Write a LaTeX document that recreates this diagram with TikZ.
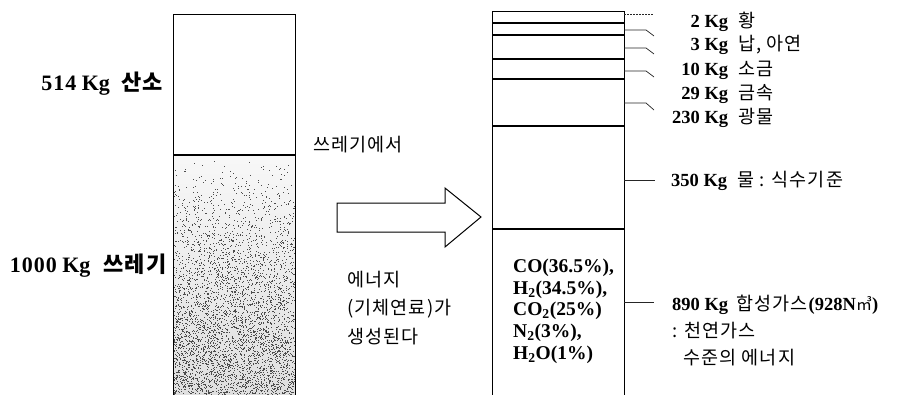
\documentclass[tikz,border=0pt]{standalone}
\usepackage{fontspec}
\setmainfont{Liberation Serif}
\newfontfamily\kr[LetterSpace=6]{Noto Sans CJK KR}
\newfontfamily\krn{Noto Sans CJK KR}
\newcommand{\kor}[1]{{\kr #1}}
\tikzset{
  frame/.style={draw=black, line width=1pt},
  layer/.style={draw=black, line width=2.4pt},
  leader/.style={draw=black!85, line width=0.7pt},
  lbl/.style={inner sep=0pt, anchor=base west, font=\fontsize{18.5}{20}\selectfont},
  leftlbl/.style={inner sep=0pt, anchor=base east, font=\fontsize{22}{24}\selectfont\bfseries},
  midlbl/.style={inner sep=0pt, anchor=base west, font=\fontsize{18.5}{20}\selectfont},
  gaslbl/.style={inner sep=0pt, anchor=base west, font=\fontsize{19.5}{21}\selectfont\bfseries},
}
\begin{document}
\begin{tikzpicture}[x=1pt,y=-1pt]
\useasboundingbox (0,0) rectangle (901,394);
\clip (0,0) rectangle (901,394);
% ---------- left column ----------
\shade[top color=gray!6, bottom color=gray!25] (173,155) rectangle (295,394);
\pgfmathsetseed{11}
\foreach \i in {1,...,4200}{
  \pgfmathsetmacro\xx{173.5+121*rnd}
  \pgfmathsetmacro\yy{156+238*sqrt(rnd)}
  \fill[black!70] (\xx,\yy) rectangle ++(0.75,0.75);
}
\draw[frame] (173,396) -- (173,14) -- (295,14) -- (295,396);
\draw[line width=1.6pt] (173,155) -- (295,155);
\node[leftlbl] (oxy) at (163,90) {5\kern1pt1\kern1pt4 Kg\hspace{11pt}\kor{산소}};
\node[leftlbl] (waste) at (167,272) {1\kern1pt0\kern1pt0\kern1pt0 Kg\hspace{13pt}\kor{쓰레기}};
% ---------- middle ----------
\node[midlbl] (from) at (313,151) {\kor{쓰레기에서}};
\draw[frame, fill=white] (337,203) -- (445,203) -- (445,188) -- (481,217) -- (445,247) -- (445,232) -- (337,232) -- cycle;
\node[midlbl] (en1) at (347,286) {\kor{에너지}};
\node[midlbl] (en2) at (347,314) {\kor{(기체연료)가}};
\node[midlbl] (en3) at (347,343) {\kor{생성된다}};
% ---------- right column ----------
\draw[frame] (492,396) -- (492,11) -- (624,11) -- (624,396);
\draw[line width=1.6pt] (492,23) -- (624,23);
\draw[layer] (492,35) -- (624,35);
\draw[layer] (492,59) -- (624,59);
\draw[layer] (492,79) -- (624,79);
\draw[line width=2pt] (492,126) -- (624,126);
\draw[line width=2pt] (492,229) -- (624,229);
% leaders
\coordinate (l1a) at (624,14);  \coordinate (l1b) at (654,14);
\draw[leader, dash pattern=on 2pt off 1pt] (l1a) -- (l1b);
\coordinate (l2a) at (624,30);  \coordinate (l2b) at (646,30); \coordinate (l2c) at (654,36);
\draw[leader] (l2a) -- (l2b) -- (l2c);
\coordinate (l3a) at (624,48);  \coordinate (l3b) at (646,48); \coordinate (l3c) at (654,54);
\draw[leader] (l3a) -- (l3b) -- (l3c);
\coordinate (l4a) at (624,71);  \coordinate (l4b) at (646,71); \coordinate (l4c) at (654,77);
\draw[leader] (l4a) -- (l4b) -- (l4c);
\coordinate (l5a) at (624,103); \coordinate (l5b) at (646,103); \coordinate (l5c) at (654,110);
\draw[leader] (l5a) -- (l5b) -- (l5c);
\coordinate (l6a) at (624,180); \coordinate (l6b) at (655,180);
\draw[leader] (l6a) -- (l6b);
\coordinate (l7a) at (624,302); \coordinate (l7b) at (654,302);
\draw[leader] (l7a) -- (l7b);
% labels
\node[lbl] (s) at (676,27) {\makebox[52pt][r]{\bfseries 2 Kg}\hspace{10pt}\kor{황}};
\node[lbl] (pb) at (676,50) {\makebox[52pt][r]{\bfseries 3 Kg}\hspace{10pt}\kor{납, 아연}};
\node[lbl] (salt) at (676,75) {\makebox[52pt][r]{\bfseries 10 Kg}\hspace{10pt}\kor{소금}};
\node[lbl] (metal) at (676,99) {\makebox[52pt][r]{\bfseries 29 Kg}\hspace{10pt}\kor{금속}};
\node[lbl] (mineral) at (676,123) {\makebox[52pt][r]{\bfseries 230 Kg}\hspace{10pt}\kor{광물}};
\node[lbl] (water) at (671,186) {\textbf{350 Kg}\hspace{10pt}\kor{물 : 식수기준}};
\node[lbl] (syn1) at (672,310) {\textbf{890 Kg}\hspace{8pt}\kor{합성가스}\textbf{(928N}{\krn\fontsize{16}{18}\selectfont ㎥}\textbf{)}};
\node[lbl] (syn2) at (672,337) {\kor{: 천연가스}};
\node[lbl] (syn3) at (683,364) {\kor{수준의 에너지}};
% gas composition
\node[gaslbl] (g1) at (513,272) {CO(36.5\%),};
\node[gaslbl] (g2) at (513,294) {H\textsubscript{2}(34.5\%),};
\node[gaslbl] (g3) at (513,315) {CO\textsubscript{2}(25\%)};
\node[gaslbl] (g4) at (513,337) {N\textsubscript{2}(3\%),};
\node[gaslbl] (g5) at (513,359) {H\textsubscript{2}O(1\%)};
\end{tikzpicture}
\end{document}
